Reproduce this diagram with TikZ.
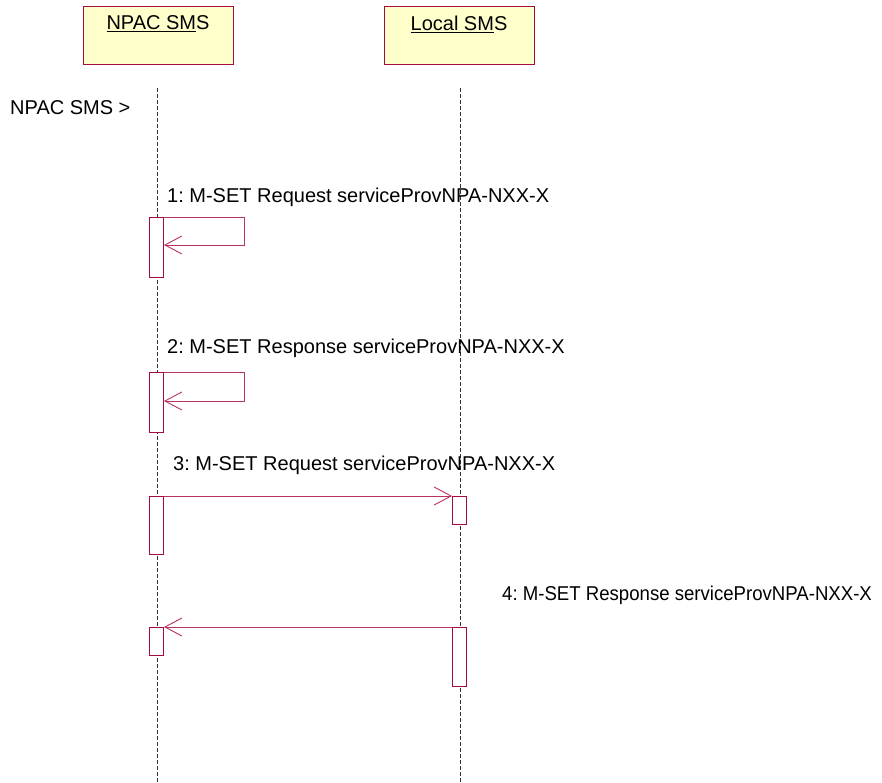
\documentclass[tikz,border=0pt]{standalone}
\usepackage{fontspec}
\setmainfont{Liberation Sans}
\frenchspacing
\usetikzlibrary{arrows.meta}
\definecolor{umlred}{RGB}{165,10,65}
\definecolor{umlarrow}{RGB}{185,50,100}
\definecolor{umlfill}{RGB}{255,255,204}
\tikzset{
  headbox/.style={draw=umlred, fill=umlfill, line width=0.9pt, minimum width=150pt, minimum height=58pt, inner sep=0pt},
  headtext/.style={font=\fontsize{20}{22}\selectfont, inner sep=0pt},
  lifeline/.style={draw=black!80, line width=0.6pt, dash pattern=on 4pt off 2pt},
  actbox/.style={draw=umlred, fill=white, line width=0.9pt, minimum width=14pt, inner sep=0pt, anchor=north},
  msg/.style={draw=umlarrow, line width=0.9pt, -{Straight Barb[length=17pt,width=18pt,line width=0.9pt]}},
  msgtext/.style={font=\fontsize{20}{22}\selectfont, inner sep=0pt, anchor=west}
}
\begin{document}
\begin{tikzpicture}[x=1pt,y=-1pt]
\useasboundingbox (0,0) rectangle (882,783);
% heads
\node[headbox] (npac) at (158,35) {};
\node[headbox] (local) at (459,35) {};
\node[headtext] (npacT) at (158,24) {\underline{NPAC SM}S};
\node[headtext] (localT) at (459,24) {\underline{Local SM}S};
% lifelines
\coordinate (nTop) at (157,88);
\coordinate (nBot) at (157,783);
\coordinate (lTop) at (460,88);
\coordinate (lBot) at (460,783);
\draw[lifeline] (nTop) -- (nBot);
\draw[lifeline] (lTop) -- (lBot);
\node[msgtext] (actor) at (10,108) {NPAC SMS >};
% activation boxes
\node[actbox, minimum height=60pt] (a1) at (156.5,217) {};
\node[actbox, minimum height=60pt] (a2) at (156.5,372) {};
\node[actbox, minimum height=58pt] (a3) at (156.5,496) {};
\node[actbox, minimum height=28pt] (b3) at (459.5,496) {};
\node[actbox, minimum height=28pt] (a4) at (156.5,627) {};
\node[actbox, minimum height=59pt] (b4) at (459.5,627) {};
% message 1
\node[msgtext] (m1) at (167,197) {1: M-SET Request serviceProvNPA-NXX-X};
\draw[msg] (a1.north east) -- ++(80,0) -- ++(0,28) -- ([yshift=-28pt]a1.north east);
% message 2
\node[msgtext] (m2) at (167,348) {2: M-SET Response serviceProvNPA-NXX-X};
\draw[msg] (a2.north east) -- ++(80,0) -- ++(0,29) -- ([yshift=-29pt]a2.north east);
% message 3
\node[msgtext] (m3) at (173,465) {3: M-SET Request serviceProvNPA-NXX-X};
\draw[msg] (a3.north east) -- (b3.north west);
% message 4
\node[msgtext] (m4) at (502,595) {\scalebox{0.93}[1]{4: M-SET Response serviceProvNPA-NXX-X}};
\draw[msg] (b4.north west) -- (a4.north east);
\end{tikzpicture}
\end{document}
